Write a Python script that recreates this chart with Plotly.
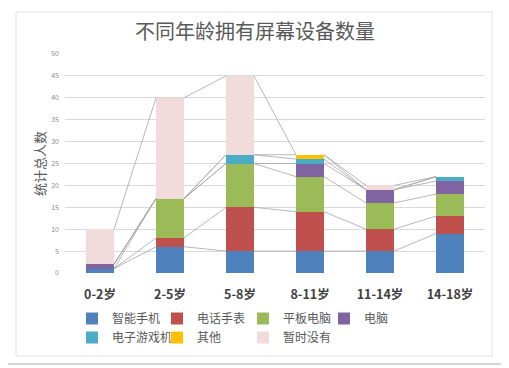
import plotly.graph_objects as go

categories = ["0-2岁", "2-5岁", "5-8岁", "8-11岁", "11-14岁", "14-18岁"]
series_names = ["智能手机", "电话手表", "平板电脑", "电脑", "电子游戏机", "其他", "暂时没有"]
smartphone = [1, 6, 5, 5, 5, 9]
phone_watch = [0, 2, 10, 9, 5, 4]
tablet = [0, 9, 10, 8, 6, 5]
computer = [1, 0, 0, 3, 3, 3]
game_console = [0, 0, 2, 1, 0, 1]
other = [0, 0, 0, 1, 0, 0]
none_yet = [8, 23, 18, 0, 1, 0]
colors = ["#4F81BD", "#C0504D", "#9BBB59", "#8064A2", "#4BACC6", "#FFC000", "#F2DCDB"]
y_ticks = list(range(0, 55, 5))
y_title = "统计总人数"

series_values = [smartphone, phone_watch, tablet, computer, game_console, other, none_yet]

# page is rendered with an 8px body margin; positions below are page pixels
OFF = 8
W, H = 509 - OFF, 368 - OFF
L, R, T, B = 65 - OFF, 485 - OFF, 54 - OFF, 273 - OFF
BAR_W = 0.4
FONT = "Noto Sans CJK SC"
LEGEND_COLS = 4
legend_ids = ["legend", "legend2", "legend3", "legend4"]

xs = list(range(len(categories)))
fig = go.Figure()

for k, (name, vals) in enumerate(zip(series_names, series_values)):
    fig.add_trace(go.Bar(
        x=xs, y=vals, name=name, width=BAR_W,
        marker=dict(color=colors[k], line=dict(width=0)),
        legend=legend_ids[k % LEGEND_COLS], legendgroup=name,
    ))

# series lines (Excel style): connect tops of each series between adjacent bars
cum = []
running = [0] * len(categories)
for vals in series_values:
    running = [a + b for a, b in zip(running, vals)]
    cum.append(list(running))

for k, tops in enumerate(cum):
    lx, ly = [], []
    for i in range(len(categories) - 1):
        lx += [xs[i] + BAR_W / 2, xs[i + 1] - BAR_W / 2, None]
        ly += [tops[i], tops[i + 1], None]
    fig.add_trace(go.Scatter(x=lx, y=ly, mode="lines", showlegend=False,
                             hoverinfo="skip",
                             line=dict(color="#A6A6A6", width=0.8)))

def px_x(p):
    return (p - OFF - L) / (R - L)

def px_y(p):
    return (B - (p - OFF)) / (B - T)

shapes = [
    dict(type="rect", xref="paper", yref="paper", layer="below",
         x0=px_x(4), x1=px_x(503), y0=px_y(364), y1=px_y(3),
         line=dict(color="#C8C8C8", width=1.5), fillcolor="white"),
    dict(type="rect", xref="paper", yref="paper", layer="below",
         x0=px_x(16), x1=px_x(492), y0=px_y(356), y1=px_y(12),
         line=dict(color="#E2E2E2", width=1)),
]

legend_common = dict(
    orientation="v", xref="container", yref="container",
    xanchor="left", yanchor="top",
    font=dict(family=FONT, size=12, color="#595959"),
    traceorder="normal", tracegroupgap=5, bgcolor="rgba(0,0,0,0)",
    itemclick=False, itemdoubleclick=False,
)
legend_sym_x = [92, 177, 263, 344]
legend_top = 304
legends = {}
for lid, sx in zip(legend_ids, legend_sym_x):
    legends[lid] = dict(x=(sx - 28) / W, y=1 - (legend_top - OFF) / H, **legend_common)

fig.update_layout(
    width=W, height=H,
    margin=dict(l=L, r=W - R, t=T, b=H - B, autoexpand=False),
    paper_bgcolor="white", plot_bgcolor="white",
    barmode="stack",
    title=dict(text="不同年龄拥有屏幕设备数量", x=(255 - OFF) / W, xanchor="center",
               y=1 - (32 - OFF) / H, yanchor="middle",
               font=dict(family=FONT, size=20, color="#595959")),
    xaxis=dict(tickmode="array", tickvals=xs, ticktext=categories,
               range=[-0.5, len(categories) - 0.5],
               showgrid=False, zeroline=False, showline=False,
               ticks="", ticklabelstandoff=12,
               tickfont=dict(family=FONT, size=12.5, color="#404040", weight="bold")),
    yaxis=dict(range=[0, 50], tickvals=y_ticks, showgrid=True, gridcolor="#D9D9D9",
               gridwidth=1, zeroline=False, showline=False, ticks="",
               ticklabelstandoff=5,
               tickfont=dict(family=FONT, size=7, color="#8C8C8C")),
    annotations=[dict(text=y_title, xref="paper", yref="paper",
                      x=px_x(39), y=px_y(164), xanchor="center", yanchor="middle",
                      textangle=-90, showarrow=False,
                      font=dict(family=FONT, size=13, color="#595959"))],
    shapes=shapes,
    **legends,
)

fig.write_html("out.html")
